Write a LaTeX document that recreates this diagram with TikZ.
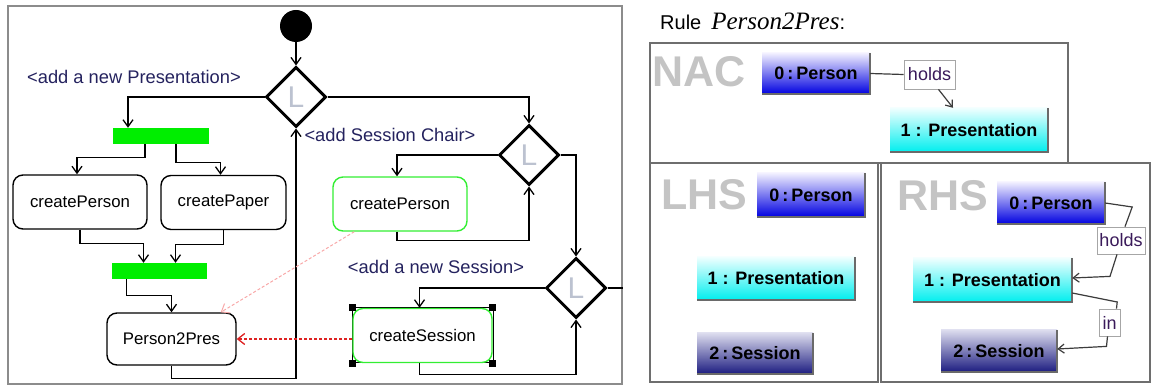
\documentclass[tikz,border=0pt]{standalone}
\usepackage{fontspec}
\setmainfont{Liberation Sans}
\newfontfamily\serifit{Liberation Serif}
\usetikzlibrary{arrows.meta,positioning,calc,shapes.geometric}
\definecolor{ActGreen}{HTML}{33EE33}
\definecolor{BarGreen}{HTML}{00EE00}
\definecolor{GuardInk}{HTML}{24225E}
\definecolor{FrameGray}{HTML}{8C8C8C}
\definecolor{BoxGray}{HTML}{6E6E6E}
\definecolor{BigGray}{HTML}{C4C4C4}
\definecolor{LetterGray}{HTML}{BCC2D0}
\definecolor{TraceRed}{HTML}{DD2222}
\definecolor{TracePink}{HTML}{F8A8A8}
\definecolor{PersonTop}{HTML}{F2F0FF}
\definecolor{PersonBot}{HTML}{0000E0}
\definecolor{PresTop}{HTML}{F0FFFF}
\definecolor{PresBot}{HTML}{00EEEE}
\definecolor{SessTop}{HTML}{DCDCEE}
\definecolor{SessBot}{HTML}{1C1C80}
\definecolor{EdgeGray}{HTML}{3C3C3C}
\definecolor{ShadeGray}{HTML}{6A6A6A}
\definecolor{LabelInk}{HTML}{3A1A5A}

\begin{document}
\begin{tikzpicture}[x=1pt,y=-1pt,
  act/.style={draw,rounded corners=10pt,line width=1.4pt,minimum height=54pt,inner sep=0pt,font=\fontsize{16.8}{18}\selectfont},
  chosen/.style={act,draw=ActGreen},
  decision/.style={diamond,draw,line width=3pt,minimum width=60pt,minimum height=60pt,inner sep=0pt,text=LetterGray,font=\fontsize{30}{30}\selectfont},
  bar/.style={fill=BarGreen,minimum width=96pt,minimum height=16pt,inner sep=0pt},
  startdot/.style={circle,fill=black,minimum size=32pt,inner sep=0pt},
  guard/.style={text=GuardInk,inner sep=0pt,font=\fontsize{18.3}{20}\selectfont},
  flow/.style={-{Straight Barb[length=7pt,width=10pt]},line width=1.3pt},
  trace/.style={-{Straight Barb[length=7pt,width=11pt]},dash pattern=on 3pt off 2pt,line width=1.3pt},
  rframe/.style={draw=BoxGray,line width=1.3pt,inner sep=0pt},
  bigname/.style={anchor=west,inner sep=0pt,text=BigGray,font=\fontsize{43}{43}\selectfont\bfseries},
  obj/.style={inner sep=0pt,font=\fontsize{18}{18}\selectfont\bfseries},
  person/.style={obj,top color=PersonTop,bottom color=PersonBot},
  pres/.style={obj,top color=PresTop,bottom color=PresBot},
  sess/.style={obj,top color=SessTop,bottom color=SessBot},
  elabel/.style={draw=gray!70,fill=white,line width=0.8pt,text=LabelInk,inner sep=0pt,font=\fontsize{18}{18}\selectfont},
  link/.style={draw=EdgeGray,line width=1.2pt},
  linkto/.style={link,-{Straight Barb[length=6pt,width=9pt]}}
]
\useasboundingbox (0,0) rectangle (1152,387);

% activity diagram
\node[draw=FrameGray,line width=1.5pt,minimum width=614pt,minimum height=378pt,inner sep=0pt] (actpanel) at (315,195) {};
\node[startdot] (start) at (296,26) {};
\node[decision] (d1) at (296,97) {L};
\node[decision] (d2) at (529,155) {L};
\node[decision] (d3) at (576,288) {L};
\node[bar] (fork) at (161,136) {};
\node[bar,minimum width=95pt] (join) at (159.5,271) {};
\node[act,minimum width=134pt] (cperson) at (80,202) {createPerson};
\node[act,minimum width=125pt] (cpaper) at (223.5,202.5) {createPaper};
\node[act,minimum width=129pt,minimum height=52pt] (p2p) at (171.5,339) {Person2Pres};
\node[chosen,minimum width=134pt] (chair) at (400,204) {createPerson};
\draw[line width=1pt] (352,308) rectangle (493,363);
\node[chosen,minimum width=139pt] (csession) at (422.5,335.5) {createSession};
\foreach \c in {north west,north east,south west,south east}
  \fill (csession.\c) ++(-3.5,-3.5) rectangle ++(7,7);

\node[guard] (gpres) at (134,77) {<add a new Presentation>};
\node[guard] (gchair) at (390,135) {<add Session Chair>};
\node[guard] (gsess) at (436,267) {<add a new Session>};

\draw[flow] (start) -- (d1);
\draw[flow] (d1.west) -| ([xshift=-33pt]fork.north);
\draw[flow] ([xshift=-16pt]fork.south) -- ++(0,13) -| ([xshift=-3pt]cperson.north);
\draw[flow] ([xshift=15pt]fork.south) -- ++(0,18) -| ([xshift=-3pt]cpaper.north);
\draw[flow] (cperson.south) -- ++(0,14) -| ([xshift=-16pt]join.north);
\draw[flow] (cpaper.south) -- ++(0,14) -| ([xshift=16pt]join.north);
\draw[flow] ([xshift=-33pt]join.south) -- ++(0,16) -| (p2p.north);
\draw[flow] (p2p.south) -- ++(0,13) -| (d1.south);
\draw[flow] (d1.east) -| (d2.north);
\draw[flow] (d2.west) -| ([xshift=-3pt]chair.north);
\draw[flow] ([xshift=-3pt]chair.south) -- ++(0,9) -| (d2.south);
\draw[flow] (d2.east) -| (d3.north);
\draw[line width=1.3pt] (d3.east) -- (d3.east -| actpanel.east);
\draw[flow] (d3.west) -| ([xshift=-3pt]csession.north);
\draw[flow] ([xshift=-3pt]csession.south) -- ++(0,11) -| (d3.south);
\draw[trace,TraceRed] (p2p.east -| csession.west) -- (p2p.east);
\draw[trace,TracePink,line width=1pt] ([xshift=22pt]chair.south west) -- ([xshift=-16pt]p2p.north east);

% graph transformation rule
\node[anchor=west,inner sep=0pt,font=\fontsize{20}{20}\selectfont] (title) at (660,21)
  {Rule\hspace{10pt}{\serifit\itshape\fontsize{25}{25}\selectfont Person2Pres}:};
\node[rframe,minimum width=418pt,minimum height=120pt] (nac) at (859,103) {};
\node[rframe,minimum width=228pt,minimum height=219pt] (lhs) at (764,272.5) {};
\node[rframe,minimum width=269pt,minimum height=219pt] (rhs) at (1015.5,272.5) {};
\node[bigname] (nacname) at (652,72) {NAC};
\node[bigname] (lhsname) at (661,195) {LHS};
\node[bigname] (rhsname) at (897,196) {RHS};

\node[person,minimum width=108pt,minimum height=41pt] (np) at (816,73.5) {0\,:\,Person};
\node[pres,minimum width=158pt,minimum height=44pt] (nr) at (969,130) {1 : Presentation};
\node[person,minimum width=108pt,minimum height=44pt] (lp) at (811,195) {0\,:\,Person};
\node[pres,minimum width=158pt,minimum height=43pt] (lr) at (776,278.5) {1 : Presentation};
\node[sess,minimum width=116pt,minimum height=41pt] (ls) at (755,353.5) {2\,:\,Session};
\node[person,minimum width=108pt,minimum height=42pt] (rp) at (1051,203) {0\,:\,Person};
\node[pres,minimum width=159pt,minimum height=44pt] (rr) at (992.5,280) {1 : Presentation};
\node[sess,minimum width=116pt,minimum height=42pt] (rs) at (999,351) {2\,:\,Session};
\foreach \n in {np,nr,lp,lr,ls,rp,rr,rs}
  \draw[ShadeGray,line width=2pt] (\n.north east) -- (\n.south east) -- (\n.south west);

\node[elabel,minimum width=51pt,minimum height=29pt] (nholds) at (929.5,74.5) {holds};
\node[elabel,minimum width=48pt,minimum height=27pt] (rholds) at (1121,240.5) {holds};
\node[elabel,minimum width=21pt,minimum height=27pt] (rin) at (1109.5,322.5) {in};

\draw[link] (np.east) -- (nholds.west);
\draw[linkto] ([xshift=9pt]nholds.south) -- ([xshift=-16pt]nr.north);
\draw[link] (rp.east) -- ++(27,4) -- ([xshift=4pt]rholds.north);
\draw[linkto] ([xshift=-4pt]rholds.south) -- ++(-7,22) -- ([yshift=2pt]rr.east);
\draw[link] ([yshift=-13pt]rr.east) -- ++(45,9) -- ([xshift=7pt]rin.north);
\draw[linkto] ([xshift=-2pt]rin.south) -- ++(-1,10) -- ([yshift=2pt]rs.east);
\end{tikzpicture}
\end{document}
